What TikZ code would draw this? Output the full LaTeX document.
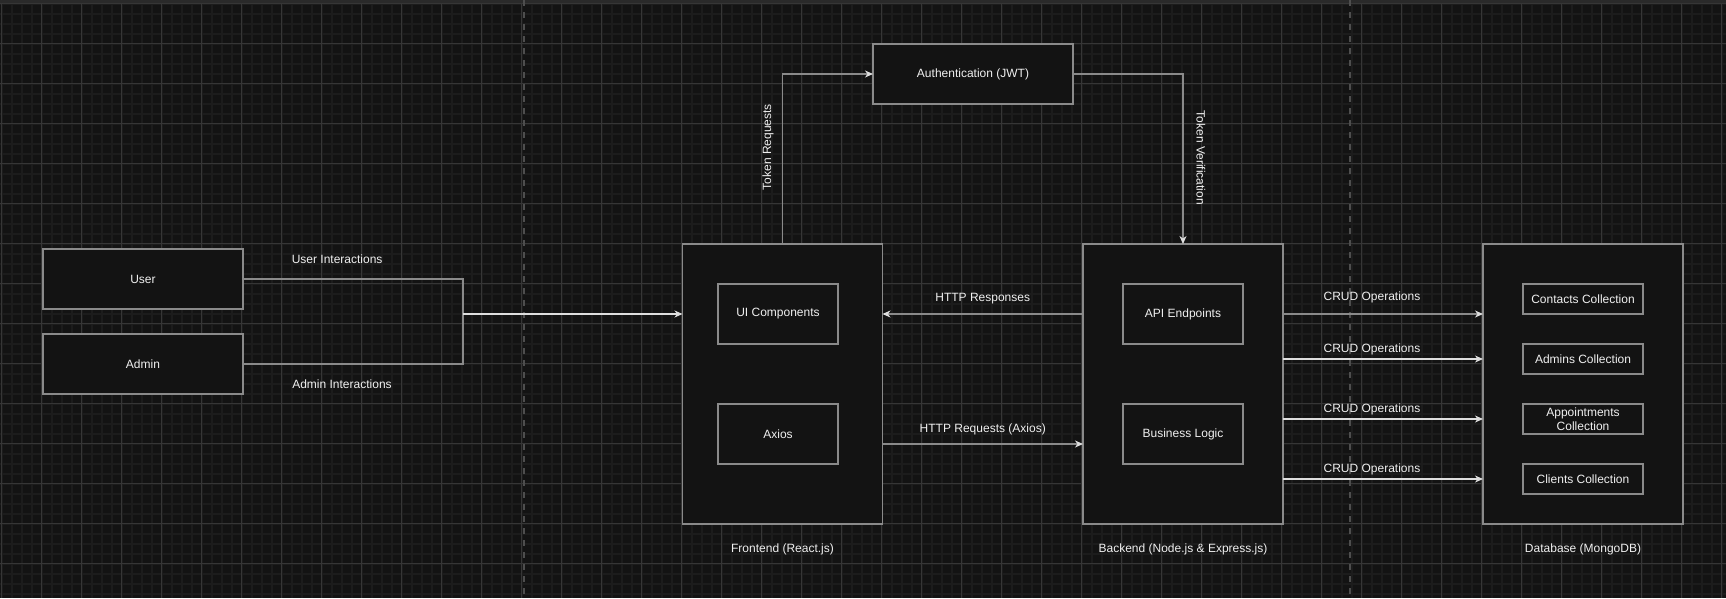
\documentclass[tikz,border=0pt]{standalone}
\usepackage{fontspec}
\setmainfont{Liberation Sans}
\usetikzlibrary{arrows.meta}
\definecolor{bgc}{HTML}{131313}
\definecolor{boxc}{HTML}{131313}
\definecolor{minorc}{HTML}{1C1C1C}
\definecolor{majorc}{HTML}{363636}
\definecolor{topc}{HTML}{2A2A2A}
\definecolor{sepc}{HTML}{4E4E4E}
\definecolor{bordc}{HTML}{8A8A8A}
\definecolor{lightc}{HTML}{DEDEDE}
\definecolor{txtc}{HTML}{F0F0F0}
\tikzset{
  minorgrid/.style={draw=minorc,line width=2pt},
  majorgrid/.style={draw=majorc,line width=1pt},
  sepline/.style={draw=sepc,line width=2pt,dash pattern=on 6pt off 6pt},
  box/.style={draw=bordc,fill=boxc,line width=1.5pt,inner sep=0pt,outer sep=0pt,
    text=txtc,font=\fontsize{12}{14}\selectfont,align=center},
  bigbox/.style={box,minimum width=200pt,minimum height=280pt},
  sidebox/.style={box,minimum width=200pt,minimum height=60pt},
  midbox/.style={box,minimum width=120pt,minimum height=60pt},
  colbox/.style={box,minimum width=120pt,minimum height=30pt,font=\fontsize{12}{14.5}\selectfont},
  lbl/.style={text=txtc,font=\fontsize{12}{14}\selectfont,inner sep=0pt},
  gline/.style={draw=bordc,line width=1.4pt},
  wline/.style={draw=lightc,line width=1.4pt},
  tip/.style={-{Stealth[length=8pt,width=7pt,inset=2.5pt,color=lightc]}},
  garrow/.style={gline,tip},
  warrow/.style={wline,tip}
}
\begin{document}
\begin{tikzpicture}[x=1pt,y=-1pt]
\useasboundingbox (0,0) rectangle (1726,598);
\fill[bgc] (0,0) rectangle (1726,598);
% grid
\foreach \i in {0,...,172} \draw[minorgrid] ({1.7+10*\i},0) -- ({1.7+10*\i},598);
\foreach \i in {0,...,59} \draw[minorgrid] (0,{3.7+10*\i}) -- (1726,{3.7+10*\i});
\foreach \i in {0,...,43} \draw[majorgrid] ({1.7+40*\i},0) -- ({1.7+40*\i},598);
\foreach \i in {0,...,14} \draw[majorgrid] (0,{3.7+40*\i}) -- (1726,{3.7+40*\i});
\fill[topc] (0,0) rectangle (1726,3);
% separators
\draw[sepline] (524,0) -- (524,598);
\draw[sepline] (1350,0) -- (1350,598);

% actors
\node[sidebox] (user) at (143,279) {User};
\node[sidebox] (admin) at (143,364) {Admin};

% auth
\node[sidebox] (auth) at (973,74) {Authentication (JWT)};

% frontend
\node[bigbox] (front) at (782.5,384) {};
\node[midbox] (ui) at (778,314) {UI Components};
\node[midbox] (axios) at (778,434) {Axios};
\node[lbl] (frontlbl) at (782.5,549) {Frontend (React.js)};

% backend
\node[bigbox] (back) at (1183,384) {};
\node[midbox] (api) at (1183,314) {API Endpoints};
\node[midbox] (logic) at (1183,434) {Business Logic};
\node[lbl] (backlbl) at (1183,549) {Backend (Node.js \& Express.js)};

% database
\node[bigbox] (db) at (1583,384) {};
\node[colbox] (c1) at (1583,299) {Contacts Collection};
\node[colbox] (c2) at (1583,359) {Admins Collection};
\node[colbox] (c3) at (1583,419) {Appointments\\Collection};
\node[colbox] (c4) at (1583,479) {Clients Collection};
\node[lbl] (dblbl) at (1583,549) {Database (MongoDB)};

% user/admin to frontend
\coordinate (j) at (463,314);
\draw[gline] (user.east) -| node[lbl,pos=0.214,yshift=20pt] (ulbl) {User Interactions} (j);
\draw[gline] (admin.east) -| node[lbl,pos=0.225,yshift=-20pt] (albl) {Admin Interactions} (j);
\draw[warrow] (j) -- (j -| front.west);

% tokens
\draw[garrow] (front.north) |- node[lbl,pos=0.285,xshift=-14.5pt,rotate=90] (trlbl) {Token Requests} (auth.west);
\draw[garrow] (auth.east) -| node[lbl,pos=0.747,xshift=18pt,rotate=-90] (tvlbl) {Token Verification} (back.north);

% http
\draw[garrow] (back.west |- ui) -- node[lbl,pos=0.5,yshift=15pt] (hrslbl) {HTTP Responses} (front.east |- ui);
\path ([yshift=-60pt]front.east) coordinate (hq);
\draw[garrow] (hq) -- node[lbl,pos=0.5,yshift=15pt] (hrqlbl) {HTTP Requests (Axios)} (hq -| back.west);

% crud
\path ([yshift=70pt]back.east) coordinate (cr1);
\draw[garrow] (cr1) -- node[lbl,pos=0.445,yshift=17pt] (cl1) {CRUD Operations} (cr1 -| db.west);
\draw[warrow] (back.east |- c2) -- node[lbl,pos=0.445,yshift=10pt] (cl2) {CRUD Operations} (db.west |- c2);
\draw[warrow] (back.east |- c3) -- node[lbl,pos=0.445,yshift=10pt] (cl3) {CRUD Operations} (db.west |- c3);
\draw[warrow] (back.east |- c4) -- node[lbl,pos=0.445,yshift=10pt] (cl4) {CRUD Operations} (db.west |- c4);
\end{tikzpicture}
\end{document}
